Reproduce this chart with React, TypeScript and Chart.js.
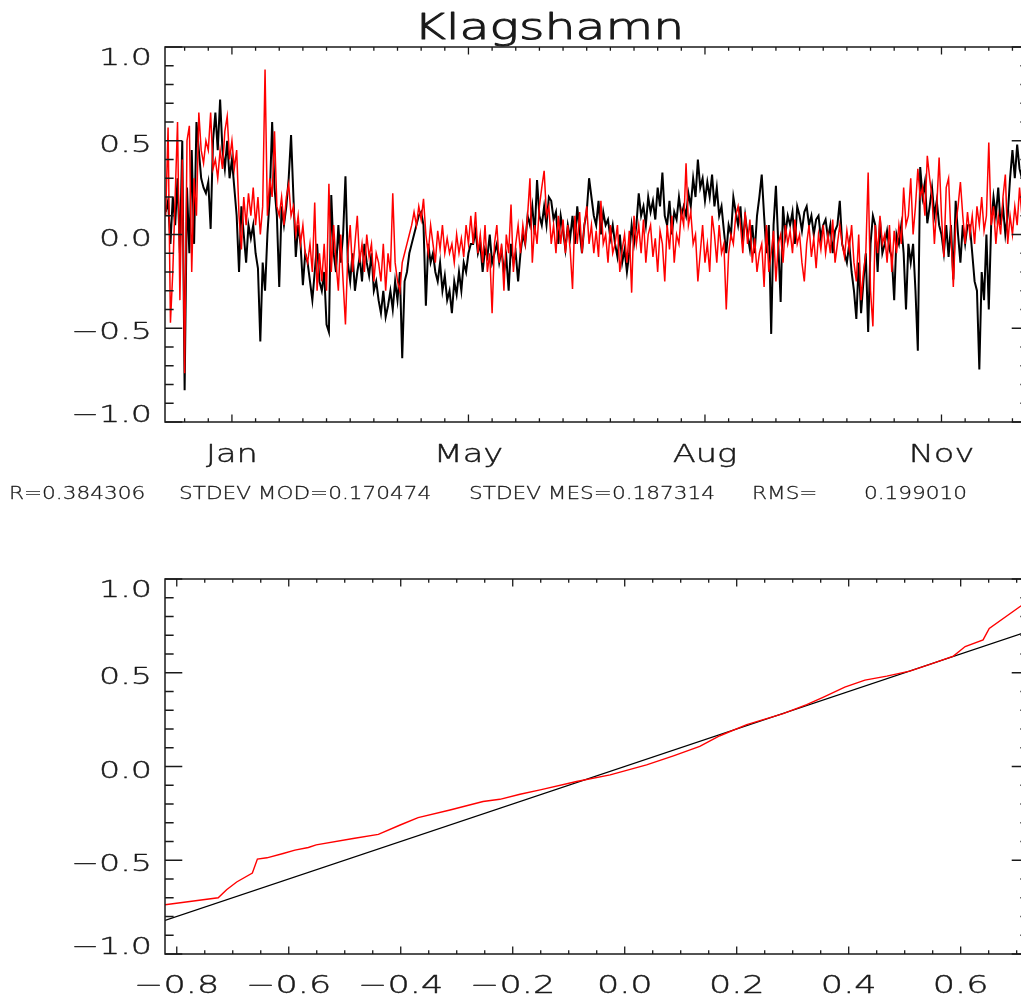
import { useEffect, useRef } from "react";
import { Chart, registerables } from "chart.js";

Chart.register(...registerables);

// Daily sea-level anomalies (m); the first value belongs to day FIRST_DAY, day 0 = 1 January
const FIRST_DAY = -28;

const measured: number[] = [
  0.12, 0.18, -0.05, 0.2, 0.05, 0.3, -0.1, 0.5, -0.83, 0.25,
  -0.1, 0.45, -0.05, 0.6, 0.45,
  0.3, 0.25, 0.22, 0.28, 0.03, 0.5, 0.65, 0.45, 0.72, 0.45, 0.35, 0.5, 0.3, 0.4, 0.25,
  0.1, -0.2, 0.15, 0.0, -0.15, 0.05, -0.02, 0.05, -0.1, -0.18,
  -0.57, -0.15, -0.3, 0.0, 0.2, 0.6, 0.25, 0.1, -0.28, 0.15,
  0.05, 0.15, 0.3, 0.53, 0.2, -0.12, 0.05, -0.05, -0.27, -0.1,
  -0.15, -0.25, -0.35, -0.2, -0.05, -0.25, -0.3, -0.2, -0.48, -0.52,
  0.21, -0.1, -0.2, 0.05, -0.15, 0.0, 0.31, -0.15, -0.25, -0.1,
  -0.3, -0.2, -0.12, -0.25, -0.05, -0.15, -0.22, -0.1, -0.3, -0.25,
  -0.35, -0.42, -0.3, -0.44, -0.38, -0.3, -0.4, -0.25, -0.35, -0.2,
  -0.66, -0.25, -0.2, -0.1, -0.05, 0.0, 0.05, 0.1, 0.12, 0.05,
  -0.38, -0.05, -0.15, -0.1, -0.2, -0.25, -0.15, -0.3, -0.22, -0.35,
  -0.3, -0.42, -0.25, -0.32, -0.2, -0.3, -0.15, -0.2, -0.1, -0.05,
  -0.05, 0.02, -0.1, -0.05, -0.2, -0.08, -0.12, 0.0, -0.15, -0.1,
  -0.05, -0.15, -0.08, -0.2, -0.12, -0.3, -0.05, -0.15, -0.1, -0.25,
  -0.1, 0.0, -0.05, 0.1, 0.05, 0.15, 0.0, 0.29, 0.1, 0.05,
  0.15, 0.05, 0.2, 0.18, 0.08, 0.12, -0.05, 0.1, 0.02, -0.08,
  0.05, -0.02, 0.1, -0.05, 0.15, 0.02, -0.1, 0.05, 0.12, 0.3,
  0.2, 0.1, 0.05, 0.18, 0.0, 0.12, 0.05, 0.08, -0.02, 0.05,
  -0.05, -0.12, 0.0, -0.15, -0.08, -0.2, -0.1, 0.05, -0.05, 0.05,
  0.22, 0.1, 0.15, 0.05, 0.2, 0.12, 0.18, 0.08, 0.25, 0.15,
  0.33, 0.1, 0.05, 0.18, 0.0, 0.12, 0.08, 0.2, 0.1, 0.15,
  0.1, 0.22, 0.15, 0.3, 0.2, 0.4, 0.25, 0.3, 0.18, 0.28,
  0.2, 0.32, 0.15, 0.25, 0.1, 0.15, 0.02, -0.1, 0.05, 0.0,
  0.2, 0.12, 0.05, 0.15, -0.05, 0.1, 0.0, -0.08, 0.05, -0.1,
  0.1, 0.2, 0.32, 0.1, -0.1, 0.05, -0.53, 0.05, 0.26, -0.05,
  -0.36, 0.15, 0.0, 0.1, 0.05, 0.12, -0.05, 0.15, 0.1, 0.02,
  0.12, 0.15, 0.05, 0.1, 0.0, 0.08, 0.1, -0.02, 0.05, 0.08,
  -0.02, 0.05, -0.1, 0.02, 0.05, 0.18, -0.05, -0.1, -0.15, -0.05,
  -0.2, -0.3, -0.45, -0.15, -0.42, -0.25, -0.1, -0.52, -0.05, 0.1,
  0.05, -0.2, 0.08, -0.1, -0.05, 0.02, -0.08, -0.12, -0.35, 0.0,
  -0.05, 0.05, -0.1, -0.4, -0.05, -0.15, -0.05, -0.3, -0.62, 0.36,
  0.2, 0.28, 0.06, 0.15, 0.25, 0.1, 0.18, 0.05, 0.0, -0.1,
  0.05, -0.12, 0.05, -0.24, 0.18, 0.0, -0.15, 0.05, -0.05, 0.05,
  0.05, -0.1, -0.25, -0.3, -0.72, -0.2, -0.35, 0.0, -0.4, 0.05,
  0.2, 0.1, 0.25, 0.05, 0.15, 0.0, 0.1, 0.3, 0.45, 0.3, 0.48, 0.35,
  0.3, 0.4, 0.25, 0.35,
];

const modelled: number[] = [
  0.1, 0.57, -0.47, -0.2, 0.2, 0.6, -0.35, 0.4, -0.74, 0.5,
  0.58, -0.2, 0.3, 0.1, 0.65, 0.45, 0.38, 0.5, 0.45, 0.65,
  0.35, 0.4, 0.3, 0.45, 0.35, 0.55, 0.63, 0.4, 0.5, 0.35,
  0.45, 0.1, -0.08, 0.2, 0.05, 0.22, 0.1, 0.25, 0.05, 0.2,
  0.0, 0.15, 0.88, 0.1, 0.3, 0.2, 0.55, 0.15, 0.1, 0.2,
  0.05, 0.2, 0.27, 0.1, 0.15, 0.0, 0.1, -0.05, 0.05, -0.1,
  -0.15, -0.05, -0.2, 0.17, -0.3, -0.1, -0.25, -0.05, -0.3, 0.27,
  -0.2, 0.05, -0.15, -0.3, 0.0, -0.25, -0.48, -0.1, 0.05, -0.2,
  -0.05, 0.1, -0.15, -0.05, -0.2, 0.0, -0.12, -0.05, -0.25, -0.1,
  -0.15, -0.25, -0.05, -0.3, -0.1, -0.2, 0.22, -0.15, -0.25, -0.3,
  -0.15, -0.1, -0.05, 0.0, 0.05, 0.12, 0.05, 0.15, 0.08, 0.19,
  0.0, -0.1, 0.05, -0.05, -0.15, 0.02, -0.08, 0.05, -0.1, -0.02,
  -0.1, -0.05, -0.15, 0.0, -0.1, -0.02, -0.12, 0.05, -0.05, 0.1,
  -0.05, 0.12, -0.1, 0.0, -0.15, 0.05, -0.2, -0.1, -0.42, -0.05,
  0.05, -0.15, -0.05, -0.3, 0.0, -0.1, 0.16, -0.2, -0.05, 0.05,
  -0.1, 0.05, -0.05, 0.1, 0.3, -0.15, 0.05, -0.05, 0.15, 0.25,
  0.34, 0.1, 0.15, -0.05, 0.05, -0.1, 0.1, -0.05, 0.08, -0.1,
  0.05, -0.08, -0.29, 0.1, -0.05, 0.12, -0.1, 0.05, 0.15, -0.05,
  0.05, -0.1, 0.02, -0.12, 0.18, -0.05, 0.0, -0.15, 0.05, -0.1,
  -0.05, 0.05, -0.2, -0.08, 0.0, -0.15, 0.02, -0.31, 0.1, -0.05,
  0.05, -0.1, 0.08, -0.15, 0.0, 0.05, -0.12, -0.02, -0.2, 0.02,
  -0.05, -0.25, 0.05, -0.08, 0.1, -0.15, 0.0, -0.05, 0.12, 0.05,
  0.38, 0.05, 0.12, -0.05, 0.0, -0.25, -0.1, 0.05, -0.15, -0.05,
  -0.2, 0.1, 0.0, -0.15, 0.05, -0.1, -0.05, -0.4, -0.1, 0.0,
  -0.05, 0.1, 0.15, 0.05, -0.1, 0.12, -0.05, 0.08, -0.15, -0.02,
  -0.2, -0.1, -0.05, -0.28, 0.05, -0.2, -0.1, 0.02, -0.25, -0.05,
  0.0, -0.15, 0.05, -0.05, 0.02, -0.1, 0.08, -0.05, 0.0, -0.15,
  -0.25, -0.05, 0.05, -0.12, -0.02, -0.18, 0.0, -0.08, 0.05, -0.1,
  0.0, -0.1, 0.08, -0.15, -0.05, 0.05, -0.05, -0.12, 0.02, -0.08,
  0.05, -0.15, -0.25, 0.0, -0.35, -0.2, -0.1, 0.33, -0.3, -0.49,
  0.05, -0.1, 0.1, -0.05, 0.0, -0.15, 0.05, -0.2, 0.02, -0.1,
  0.05, -0.05, 0.25, 0.05, 0.1, 0.3, 0.0, 0.15, 0.35, 0.2,
  0.25, 0.1, 0.42, 0.3, 0.2, -0.05, 0.15, 0.41, 0.1, -0.12,
  0.25, 0.3, 0.0, -0.28, 0.05, 0.15, 0.28, 0.1, -0.05, 0.12,
  0.0, 0.1, -0.05, 0.15, 0.05, 0.2, 0.02, 0.1, 0.49, 0.05,
  0.15, -0.05, 0.1, 0.0, 0.2, 0.32, -0.05, 0.1, 0.0, 0.15, 0.05, 0.25,
  0.1, 0.3, 0.15, 0.2,
];

const monthTickDays = [0, 100, 200, 300];
const monthTickLabels = ["Jan", "May", "Aug", "Nov"];

const levelTicks = [-1, -0.5, 0, 0.5, 1];
const levelTickLabels = ["\u22121.0", "\u22120.5", "0.0", "0.5", "1.0"];

const quantileTicks = [-0.8, -0.6, -0.4, -0.2, 0, 0.2, 0.4, 0.6];
const quantileTickLabels = ["\u22120.8", "\u22120.6", "\u22120.4", "\u22120.2", "0.0", "0.2", "0.4", "0.6"];

// Quantile-quantile curve: measured quantiles (x) against modelled quantiles (y)
const qqMeasured = [
  -0.821, -0.726, -0.711, -0.693, -0.665, -0.656, -0.639, -0.61, -0.589, -0.565,
  -0.551, -0.485, -0.44, -0.401, -0.369, -0.312, -0.253, -0.223, -0.187, -0.151,
  -0.086, -0.026, 0.039, 0.087, 0.134, 0.17, 0.218, 0.283, 0.325, 0.355,
  0.393, 0.429, 0.468, 0.509, 0.545, 0.587, 0.608, 0.64, 0.651, 0.708, 0.722,
];
const qqModelled = [
  -0.737, -0.7, -0.657, -0.616, -0.568, -0.494, -0.487, -0.464, -0.446, -0.432,
  -0.418, -0.384, -0.362, -0.312, -0.273, -0.232, -0.187, -0.175, -0.148, -0.125,
  -0.08, -0.045, 0.009, 0.057, 0.107, 0.164, 0.223, 0.282, 0.33, 0.37,
  0.423, 0.461, 0.482, 0.509, 0.545, 0.589, 0.64, 0.675, 0.736, 0.857, 0.89,
];
// Extent of the measured quantiles; the 1:1 reference line spans it
const qqExtent = [-0.821, 0.722];

const TITLE = "Klagshamn";
const statTexts = ["R=0.384306", "STDEV MOD=0.170474", "STDEV MES=0.187314", "RMS=", "0.199010"];

// ---- drawing helpers ----
const INK = "#1a1a1a";
const FACE = "'DejaVu Sans', 'Liberation Sans', sans-serif";

function wideText(
  ctx: CanvasRenderingContext2D,
  text: string,
  x: number,
  y: number,
  font: string,
  stretch: number,
  align: CanvasTextAlign,
  weight = 0
) {
  ctx.save();
  ctx.translate(x, y);
  ctx.scale(stretch, 1);
  ctx.font = font;
  ctx.textAlign = align;
  ctx.textBaseline = "alphabetic";
  ctx.fillText(text, 0, 0);
  if (weight > 0) {
    ctx.lineWidth = weight;
    ctx.strokeStyle = INK;
    ctx.lineJoin = "round";
    ctx.strokeText(text, 0, 0);
  }
  ctx.restore();
}

type AxisSpec = { major: number[]; minor: number[]; labels: string[] };
type FrameSpec = {
  x: AxisSpec;
  y: AxisSpec;
  xLabelBaseline: number;
  xFont: string;
  xStretch: number;
  yFont: string;
  yStretch: number;
  extra?: (ctx: CanvasRenderingContext2D) => void;
};

// Boxed frame with inward ticks on all four sides and labels on the left and bottom
function framePlugin(spec: FrameSpec) {
  return {
    id: "boxFrame",
    afterDraw(chart: any) {
      const { ctx, chartArea: a } = chart;
      const xs = chart.scales.x;
      const ys = chart.scales.y;
      const w = a.right - a.left;
      const h = a.bottom - a.top;
      const yTickLen = w * 0.02;
      const xTickLen = h * 0.02;

      ctx.save();
      ctx.strokeStyle = INK;
      ctx.lineWidth = 1.5;
      ctx.strokeRect(a.left, a.top, w, h);

      ctx.beginPath();
      const xTick = (v: number, len: number) => {
        const p = xs.getPixelForValue(v);
        ctx.moveTo(p, a.bottom);
        ctx.lineTo(p, a.bottom - len);
        ctx.moveTo(p, a.top);
        ctx.lineTo(p, a.top + len);
      };
      const yTick = (v: number, len: number) => {
        const p = ys.getPixelForValue(v);
        ctx.moveTo(a.left, p);
        ctx.lineTo(a.left + len, p);
        ctx.moveTo(a.right, p);
        ctx.lineTo(a.right - len, p);
      };
      spec.x.major.forEach((v) => xTick(v, xTickLen));
      spec.x.minor.forEach((v) => xTick(v, xTickLen / 2));
      spec.y.major.forEach((v) => yTick(v, yTickLen));
      spec.y.minor.forEach((v) => yTick(v, yTickLen / 2));
      ctx.lineWidth = 1.3;
      ctx.stroke();

      ctx.fillStyle = INK;
      spec.x.major.forEach((v, i) => {
        wideText(ctx, spec.x.labels[i], xs.getPixelForValue(v), spec.xLabelBaseline, spec.xFont, spec.xStretch, "center", 0.4);
      });
      const last = spec.y.major.length - 1;
      spec.y.major.forEach((v, i) => {
        const p = ys.getPixelForValue(v);
        const base = i === last ? p + 18 : i === 0 ? p : p + 11;
        wideText(ctx, spec.y.labels[i], a.left - 13, base, spec.yFont, spec.yStretch, "right", 0.4);
      });
      if (spec.extra) spec.extra(ctx);
      ctx.restore();
    },
  };
}

function minorSteps(from: number, to: number, step: number, every: number) {
  const out: number[] = [];
  for (let k = from; k <= to; k++) if (k % every !== 0) out.push(k * step);
  return out;
}

const levelMinor = minorSteps(-10, 10, 0.1, 5);

const TOP_W = 1040;
const TOP_H = 520;
const BOT_H = 479;

export default function App() {
  const topRef = useRef<HTMLCanvasElement>(null);
  const botRef = useRef<HTMLCanvasElement>(null);

  useEffect(() => {
    const series = (vals: number[]) => vals.map((v, i) => ({ x: FIRST_DAY + i, y: v }));

    const top = new Chart(topRef.current!, {
      type: "line",
      data: {
        datasets: [
          { data: series(measured), borderColor: "#000000", borderWidth: 2, pointRadius: 0, tension: 0, order: 1 },
          { data: series(modelled), borderColor: "#ff0000", borderWidth: 1.5, pointRadius: 0, tension: 0, order: 0 },
        ],
      },
      options: {
        responsive: false,
        animation: false,
        events: [],
        layout: { padding: { left: 165, top: 47, right: TOP_W - 1029, bottom: TOP_H - 422 } },
        plugins: { legend: { display: false }, tooltip: { enabled: false }, title: { display: false } },
        scales: {
          x: { type: "linear", min: -28.3, max: 337, display: false },
          y: { type: "linear", min: -1, max: 1, display: false },
        },
      },
      plugins: [
        framePlugin({
          x: { major: monthTickDays, minor: minorSteps(-2, 33, 10, 10), labels: monthTickLabels },
          y: { major: levelTicks, minor: levelMinor, labels: levelTickLabels },
          xLabelBaseline: 461.5,
          xFont: `200 24px ${FACE}`,
          xStretch: 1.4,
          yFont: `200 23px ${FACE}`,
          yStretch: 1.45,
          extra: (ctx) => {
            wideText(ctx, TITLE, 549, 38.5, `200 36px ${FACE}`, 1.36, "center", 1.0);
            const xs = [9, 179, 469, 752, 864];
            statTexts.forEach((t, i) => wideText(ctx, t, xs[i], 499, `200 18px ${FACE}`, 1.2, "left", 0.3));
          },
        }),
      ],
    } as any);

    const bot = new Chart(botRef.current!, {
      type: "line",
      data: {
        datasets: [
          {
            data: qqExtent.map((v) => ({ x: v, y: v })),
            borderColor: "#000000",
            borderWidth: 1.2,
            pointRadius: 0,
            order: 1,
          },
          {
            data: qqMeasured.map((v, i) => ({ x: v, y: qqModelled[i] })),
            borderColor: "#ff0000",
            borderWidth: 1.4,
            pointRadius: 0,
            order: 0,
          },
        ],
      },
      options: {
        responsive: false,
        animation: false,
        events: [],
        layout: { padding: { left: 165, top: 579 - TOP_H, right: TOP_W - 1029, bottom: BOT_H - (954 - TOP_H) } },
        plugins: { legend: { display: false }, tooltip: { enabled: false }, title: { display: false } },
        scales: {
          x: { type: "linear", min: qqExtent[0], max: qqExtent[1], display: false },
          y: { type: "linear", min: -1, max: 1, display: false },
        },
      },
      plugins: [
        framePlugin({
          x: { major: quantileTicks, minor: minorSteps(-16, 14, 0.05, 4), labels: quantileTickLabels },
          y: { major: levelTicks, minor: levelMinor, labels: levelTickLabels },
          xLabelBaseline: 993 - TOP_H,
          xFont: `200 25px ${FACE}`,
          xStretch: 1.4,
          yFont: `200 23px ${FACE}`,
          yStretch: 1.45,
        }),
      ],
    } as any);

    return () => {
      top.destroy();
      bot.destroy();
    };
  }, []);

  return (
    <div
      style={{
        position: "fixed",
        left: 0,
        top: 0,
        width: 1021,
        height: 999,
        overflow: "hidden",
        background: "#ffffff",
      }}
    >
      <canvas ref={topRef} width={TOP_W} height={TOP_H} style={{ position: "absolute", left: 0, top: 0 }} />
      <canvas ref={botRef} width={TOP_W} height={BOT_H} style={{ position: "absolute", left: 0, top: TOP_H }} />
    </div>
  );
}
